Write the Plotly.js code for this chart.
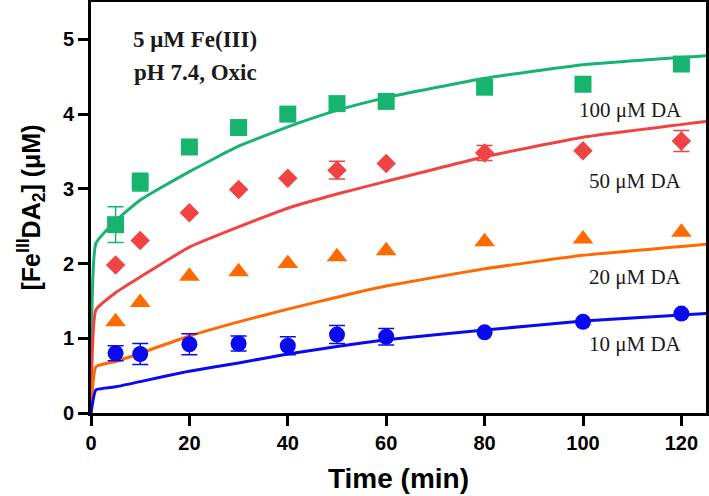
<!DOCTYPE html>
<html>
<head>
<meta charset="utf-8">
<script src="https://cdn.plot.ly/plotly-3.0.1.min.js"></script>
<style>
  html, body {margin: 0; padding: 0; background: white;}
  #plot-area {width: 709px; height: 496px;}
</style>
</head>
<body>
<div id="plot-area"></div>
<script>
// measured points (min, uM); NaN = no visible error bar
var timePts = [5, 10, 20, 30, 40, 50, 60, 80, 100, 120];

var da100 = [2.52, 3.09, 3.56, 3.82, 4.00, 4.14, 4.17, 4.36, 4.40, 4.67];
var da100Err = [0.24, 0.12, NaN, NaN, NaN, NaN, NaN, NaN, NaN, NaN];

var da50 = [1.98, 2.31, 2.68, 2.99, 3.14, 3.25, 3.34, 3.48, 3.51, 3.64];
var da50Err = [NaN, NaN, NaN, NaN, NaN, 0.12, NaN, 0.1, NaN, 0.14];

var da20 = [1.22, 1.48, 1.83, 1.89, 2.00, 2.09, 2.17, 2.29, 2.33, 2.42];
var da20Err = [NaN, NaN, NaN, NaN, NaN, NaN, NaN, NaN, NaN, NaN];

var da10 = [0.80, 0.79, 0.92, 0.93, 0.90, 1.05, 1.02, 1.08, 1.22, 1.33];
var da10Err = [0.1, 0.14, 0.14, 0.1, 0.12, 0.12, 0.11, NaN, NaN, NaN];

// model curves
var timeModel = [0, 1, 5, 10, 20, 30, 40, 50, 60, 80, 100, 125];
var model100 = [0, 2.27, 2.57, 2.85, 3.23, 3.57, 3.83, 4.05, 4.22, 4.48, 4.66, 4.78];
var model50 = [0, 1.38, 1.61, 1.82, 2.22, 2.49, 2.74, 2.93, 3.10, 3.43, 3.69, 3.90];
var model20 = [0, 0.62, 0.69, 0.80, 1.03, 1.22, 1.39, 1.55, 1.70, 1.93, 2.11, 2.26];
var model10 = [0, 0.31, 0.35, 0.42, 0.56, 0.67, 0.79, 0.89, 0.98, 1.11, 1.23, 1.33];

var seriesLabels = ["100 μM DA", "50 μM DA", "20 μM DA", "10 μM DA"];
var labelY = [4.05, 3.11, 1.82, 0.93];

var green = "#16b46e", red = "#f04444", orange = "#ff6a00", blue = "#0a0aee";

function modelLine(y, color) {
    return {
        x: timeModel, y: y,
        mode: "lines",
        line: {color: color, width: 3, shape: "spline", smoothing: 0.4},
        hoverinfo: "skip"
    };
}

function pointSet(y, err, color, symbol, size) {
    return {
        x: timePts, y: y,
        mode: "markers",
        marker: {color: color, symbol: symbol, size: size},
        error_y: {type: "data", array: err, color: color, thickness: 1.5, width: 8}
    };
}

var data = [
    modelLine(model100, green),
    modelLine(model50, red),
    modelLine(model20, orange),
    modelLine(model10, blue),
    pointSet(da100, da100Err, green, "square", 17),
    pointSet(da50, da50Err, red, "diamond", 15),
    pointSet(da20, da20Err, orange, "triangle-up", 18),
    pointSet(da10, da10Err, blue, "circle", 16)
];

var serif = "Times New Roman, Liberation Serif, serif";

var annotations = [
    {x: 21.2, y: 5.0, text: "<b>5 μM Fe(III)</b>", size: 23},
    {x: 21.2, y: 4.56, text: "<b>pH 7.4, Oxic</b>", size: 23}
];
for (var i = 0; i < seriesLabels.length; i++) {
    annotations.push({x: 120.6, y: labelY[i], text: seriesLabels[i], xanchor: "right", size: 21});
}
annotations.forEach(function (a) {
    a.xref = "x"; a.yref = "y";
    a.showarrow = false;
    a.font = {family: serif, size: a.size, color: "#1a1a1a"};
    delete a.size;
});

var axisFont = {family: "Arial, Liberation Sans, sans-serif", size: 20, color: "black", weight: "bold"};

var layout = {
    width: 709, height: 496,
    margin: {l: 91, r: 3, t: 2, b: 83},
    paper_bgcolor: "white", plot_bgcolor: "white",
    showlegend: false,
    xaxis: {
        range: [0, 125], tickvals: [0, 20, 40, 60, 80, 100, 120],
        ticks: "outside", ticklen: 10, tickwidth: 3, tickcolor: "black",
        showline: true, linewidth: 3, linecolor: "black", mirror: true,
        showgrid: false, zeroline: false,
        tickfont: axisFont,
        title: {text: "<b>Time (min)</b>", font: {family: "Arial, Liberation Sans, sans-serif", size: 28, color: "black"}, standoff: 16}
    },
    yaxis: {
        range: [0, 5.5], tickvals: [0, 1, 2, 3, 4, 5],
        ticks: "outside", ticklen: 10, tickwidth: 3, tickcolor: "black",
        showline: true, linewidth: 3, linecolor: "black", mirror: true,
        showgrid: false, zeroline: false,
        tickfont: axisFont,
        title: {text: "<b>[Fe<sup>III</sup>DA<sub>2</sub>] (μM)</b>", font: {family: "Arial, Liberation Sans, sans-serif", size: 25, color: "black"}, standoff: 16}
    },
    annotations: annotations
};

Plotly.newPlot("plot-area", data, layout, {displayModeBar: false, staticPlot: true});
</script>
</body>
</html>
